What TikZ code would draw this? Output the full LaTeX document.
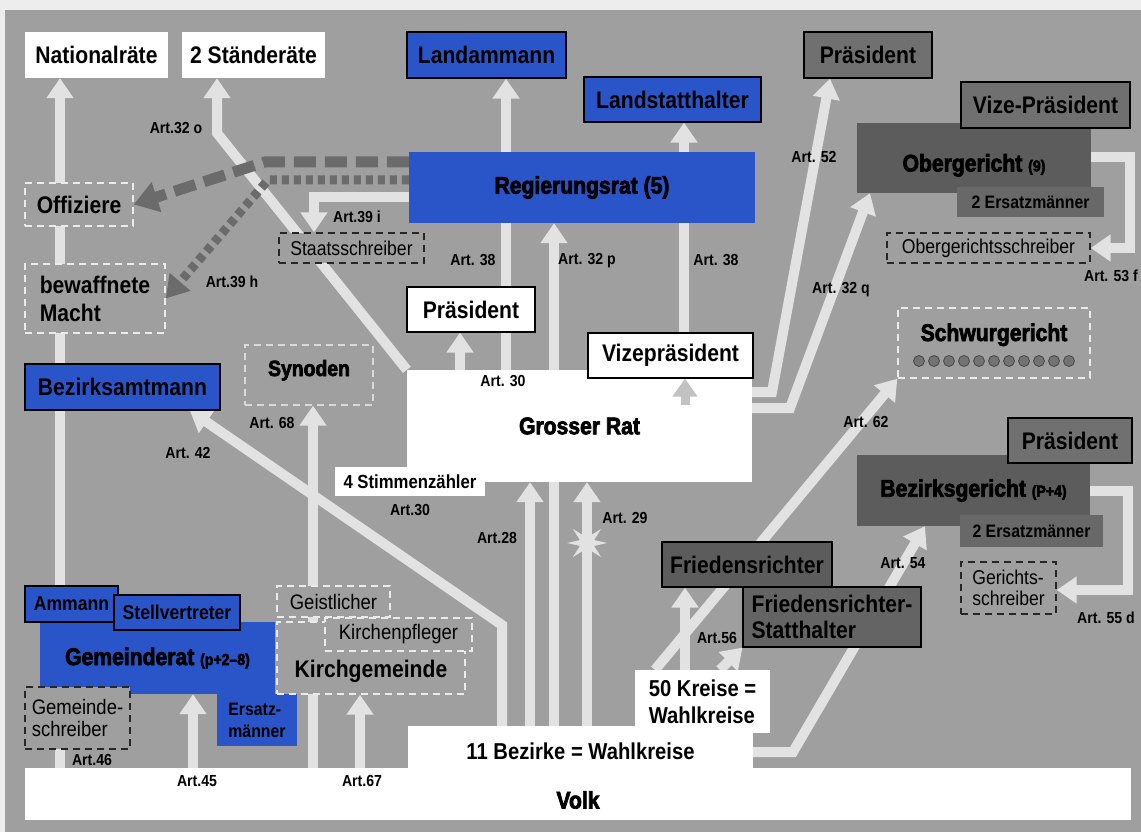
\documentclass[tikz,border=0pt]{standalone}
\usepackage{fontspec}
\setmainfont{Liberation Sans}[FakeStretch=0.88]
\newfontfamily\heavyfont{Liberation Sans}[FakeStretch=0.88,BoldFeatures={FakeBold=3}]
\usetikzlibrary{arrows.meta,shapes.geometric}
\pgfdeclarelayer{paper}
\pgfdeclarelayer{lines}
\pgfsetlayers{paper,lines,main}

\definecolor{bggray}{HTML}{9F9F9F}
\definecolor{lgray}{HTML}{E2E2E2}
\definecolor{kblue}{HTML}{2A55C8}
\definecolor{dgray}{HTML}{5C5C5C}
\definecolor{mgray}{HTML}{707070}
\definecolor{egray}{HTML}{686868}

\newcommand{\fsbox}{\fontsize{24}{28}\selectfont}
\newcommand{\fsheavy}{\heavyfont\bfseries\fontsize{24}{26}\selectfont}
\newcommand{\fsparen}{\heavyfont\bfseries\fontsize{16}{18}\selectfont}
\newcommand{\fsart}{\bfseries\fontsize{16}{18}\selectfont}
\newcommand{\fsthin}{\fontsize{20}{21}\selectfont}

\begin{document}
\begin{tikzpicture}[x=1pt,y=-1pt,
    box/.style={inner sep=0pt,align=center,font=\bfseries\fsbox},
    wh/.style 2 args={minimum width=#1pt,minimum height=#2pt},
    wbox/.style={box,fill=white},
    fwbox/.style={box,fill=white,draw=black,line width=1.2pt},
    bbox/.style={box,fill=kblue,draw=black,line width=1.2pt},
    bfill/.style={box,fill=kblue},
    gbox/.style={box,fill=mgray,draw=black,line width=1.2pt},
    court/.style={box,fill=dgray,font=\fsheavy},
    ersbox/.style={box,fill=egray,font=\bfseries\fontsize{18}{20}\selectfont},
    wdash/.style={box,fill=bggray,draw=white!92!black,line width=1.4pt,dash pattern=on 7pt off 5pt},
    kdash/.style={box,fill=bggray,draw=black!85,line width=1.4pt,dash pattern=on 7pt off 5pt,font=\fsthin},
    art/.style={inner sep=0pt,font=\fsart},
    warrow/.style={draw=lgray,line width=10pt,-{Triangle[width=26pt,length=20pt]}},
    darrow/.style={draw=black!58,line width=11pt,dash pattern=on 22pt off 9pt,-{Triangle[width=30pt,length=24pt]}},
    parrow/.style={draw=black!58,line width=9pt,dash pattern=on 7pt off 5pt,-{Triangle[width=26pt,length=22pt]}}]
    \useasboundingbox (0,0) rectangle (1141,832);
    \begin{pgfonlayer}{paper}
        \fill[black!7] (0,0) rectangle (1141,832);
        \fill[bggray] (5,10) rectangle (1141,832);
    \end{pgfonlayer}

    % obere Reihe
    \node[wbox,wh={143}{46}] (nat) at (96.5,55) {Nationalräte};
    \node[wbox,wh={143}{46}] (staend) at (253.5,55) {2 Ständeräte};
    \node[bbox,wh={159}{46}] (landam) at (486.5,55) {Landammann};
    \node[bbox,wh={177}{45}] (landst) at (672.5,99.5) {Landstatthalter};
    \node[gbox,wh={128}{46}] (praesOG) at (868,55) {Präsident};
    % Regierung
    \node[bfill,wh={346}{71},font=\fsheavy] (regrat) at (582,187.5) {Regierungsrat (5)};
    \node[kdash,wh={145}{30}] (staatsschr) at (351.5,248) {Staatsschreiber};
    % Obergericht
    \node[court,wh={234}{70},text height=28pt,text depth=1pt] (og) at (974,158) {Obergericht {\fsparen(9)}};
    \node[gbox,wh={169}{46}] (vizeOG) at (1045.5,105) {Vize-Präsident};
    \node[ersbox,wh={147}{30}] (ersOG) at (1030.5,202) {2 Ersatzmänner};
    \node[kdash,wh={203}{30}] (ogschr) at (988.5,248) {Obergerichtsschreiber};
    % linke Seite
    \node[wdash,wh={108}{43}] (offiz) at (79,204.5) {Offiziere};
    \node[wdash,wh={140}{69},align=left] (bewmacht) at (95,298.5) {bewaffnete\\Macht};
    \node[bbox,wh={195}{46}] (bezamt) at (122.5,387) {Bezirksamtmann};
    \node[wdash,wh={128}{60},draw=white!60!bggray,font=\fsheavy\fontsize{22}{24}\selectfont,
        text height=16pt,text depth=14pt] (synod) at (309,375) {Synoden};
    % Grosser Rat
    \node[wbox,wh={345}{112},font=\fsheavy] (grat) at (579.5,426) {Grosser Rat};
    \node[fwbox,wh={128}{45}] (praesGR) at (471,309.5) {Präsident};
    \node[fwbox,wh={165}{45}] (vizeGR) at (670.5,355.5) {Vizepräsident};
    \node[wbox,wh={150}{29},font=\bfseries\fontsize{19}{20}\selectfont] (stimm) at (410,481.5) {4 Stimmenzähler};
    % Gerichte
    \node[wdash,wh={192}{70},font=\fsheavy,text height=16pt,text depth=20pt] (schwur) at (994,343) {Schwurgericht};
    \node[court,wh={233}{71}] (bg) at (973.5,490.5) {Bezirksgericht {\fsparen(P+4)}};
    \node[gbox,wh={124}{45}] (praesBG) at (1070,440.5) {Präsident};
    \node[ersbox,wh={143}{32}] (ersBG) at (1031.5,531) {2 Ersatzmänner};
    \node[kdash,wh={95}{52},align=left] (gerschr) at (1008.5,588) {Gerichts-\\schreiber};
    \node[gbox,fill=dgray,wh={170}{45}] (friedr) at (747,564.5) {Friedensrichter};
    \node[gbox,fill=dgray!95!white,wh={178}{60},align=left,font=\bfseries\fontsize{24}{26}\selectfont] (friedst) at (832,617) {Friedensrichter-\\Statthalter};
    % Gemeinde
    \node[bfill,wh={235}{72}] (gemrat) at (157.5,658) {{\fsheavy Gemeinderat} {\fsparen(p+2–8)}};
    \node[bfill,wh={80}{52},align=left,font=\bfseries\fontsize{18}{22}\selectfont] (ersatz) at (257,720) {Ersatz-\\männer};
    \node[bbox,wh={93}{36},font=\bfseries\fontsize{20}{22}\selectfont] (ammann) at (71.5,604) {Ammann};
    \node[bbox,wh={126}{35},font=\bfseries\fontsize{20}{22}\selectfont] (stellv) at (177,612.5) {Stellvertreter};
    \node[kdash,wh={105}{62},align=left,font=\fontsize{21}{22}\selectfont] (gemschr) at (77.5,718) {Gemeinde-\\schreiber};
    % Kirche
    \node[wdash,wh={188}{72},text height=40pt,text depth=1pt] (kgem) at (371,658) {Kirchgemeinde};
    \node[wdash,wh={113}{31},font=\fontsize{21}{22}\selectfont] (geistl) at (333.5,601.5) {Geistlicher};
    \node[wdash,wh={147}{33},font=\fontsize{21}{22}\selectfont] (kpfl) at (398.5,634.5) {Kirchenpfleger};
    % Volk
    \node[wbox,wh={1106}{52},font=\fsheavy,text height=30pt,text depth=1pt] (volk) at (578,794) {Volk};
    \node[wbox,wh={345}{51},font=\bfseries\fontsize{23}{25}\selectfont] (bez) at (580.5,751.5) {11 Bezirke = Wahlkreise};
    \node[wbox,wh={135}{63},align=left,font=\bfseries\fontsize{23}{27}\selectfont] (kreise) at (702.5,701.5) {50 Kreise =\\Wahlkreise};

    \foreach \i in {0,...,10}
        \draw[fill=black!55,draw=black!72,line width=0.8pt] (919+15*\i,361) circle (5.5pt);
    \coordinate (vzfoot) at (685,405);
    \draw[draw=black!24,line width=9pt,-{Triangle[width=24pt,length=18pt]}] (vzfoot) -- (vizeGR.south -| vzfoot);
    \node[star,star points=8,star point ratio=2.6,fill=lgray,minimum size=40pt,inner sep=0pt] (burst) at (587,543) {};

    \begin{pgfonlayer}{lines}
        \draw[warrow] (volk.north -| 60,0) -- (nat.south -| 60,0);
        \draw[warrow] (grat.north west) -- (217,133) -- (staend.south -| 217,0);
        \draw[warrow] (grat.north -| 460,0) -- (praesGR.south -| 460,0);
        \draw[warrow] (grat.north -| 506,0) -- (landam.south -| 506,0);
        \draw[warrow] (bez.north -| 554,0) -- (regrat.south -| 554,0);
        \draw[warrow] (grat.north -| 684,0) -- (landst.south -| 684,0);
        \draw[warrow] (grat.east |- 0,392) -- (772,392) -- (praesOG.south -| 830,0);
        \draw[warrow] (grat.east |- 0,408) -- (790,408) -- (og.south -| 870,0);
        \draw[warrow] (og.east |- 0,157) -- (1130,157) -- (1130,248) -- (ogschr.east);
        \draw[warrow] (bg.east |- 0,491) -- (1128,491) -- (1128,590) -- (gerschr.east |- 0,590);
        \draw[warrow] (regrat.west |- 0,197) -- (314,197) -- (staatsschr.north -| 314,0);
        \draw[warrow] (bez.north -| 502,0) -- (502,625) -- (bezamt.south -| 190,0);
        \draw[warrow] (volk.north -| 313,0) -- (synod.south -| 313,0);
        \draw[warrow] (volk.north -| 360,0) -- (kgem.south -| 360,0);
        \draw[warrow] (volk.north -| 193,0) -- (gemrat.south -| 193,0);
        \draw[warrow] (bez.north -| 530,0) -- (grat.south -| 530,0);
        \draw[warrow] (bez.north -| 587,0) -- (grat.south -| 587,0);
        \draw[warrow] (bez.east |- 0,752) -- (793,752) -- (bg.south -| 925,0);
        \draw[warrow] (kreise.north -| 685,0) -- (friedr.south -| 685,0);
        \draw[warrow] (kreise.north -| 720,0) -- (friedst.south west);
        \draw[warrow] (kreise.north -| 655,0) -- (schwur.south west);
        \draw[darrow] (regrat.west |- 0,162) -- (265,162) -- (offiz.east);
        \draw[parrow] (regrat.west |- 0,180) -- (268,180) -- (bewmacht.east);
    \end{pgfonlayer}

    % Artikel
    \node[art] (a32o) at (176,128) {Art.32 o};
    \node[art] (a39i) at (357,217) {Art.39 i};
    \node[art] (a39h) at (232,282) {Art.39 h};
    \node[art] (a38l) at (473,260) {Art. 38};
    \node[art] (a32p) at (587,261) {Art. 32 p};
    \node[art] (a38r) at (716,260) {Art. 38};
    \node[art] (a52) at (814,157) {Art. 52};
    \node[art] (a32q) at (841,290) {Art. 32 q};
    \node[art] (a53f) at (1111,276) {Art. 53 f};
    \node[art] (a30o) at (503,381) {Art. 30};
    \node[art] (a62) at (866,422) {Art. 62};
    \node[art] (a68) at (272,423) {Art. 68};
    \node[art] (a42) at (188,453) {Art. 42};
    \node[art] (a30u) at (410,510) {Art.30};
    \node[art] (a28) at (497,538) {Art.28};
    \node[art] (a29) at (625,518) {Art. 29};
    \node[art] (a54) at (903,563) {Art. 54};
    \node[art] (a55d) at (1106,618) {Art. 55 d};
    \node[art] (a56) at (717,638) {Art.56};
    \node[art] (a46) at (92,760) {Art.46};
    \node[art] (a45) at (197,781) {Art.45};
    \node[art] (a67) at (362,781) {Art.67};
\end{tikzpicture}
\end{document}
